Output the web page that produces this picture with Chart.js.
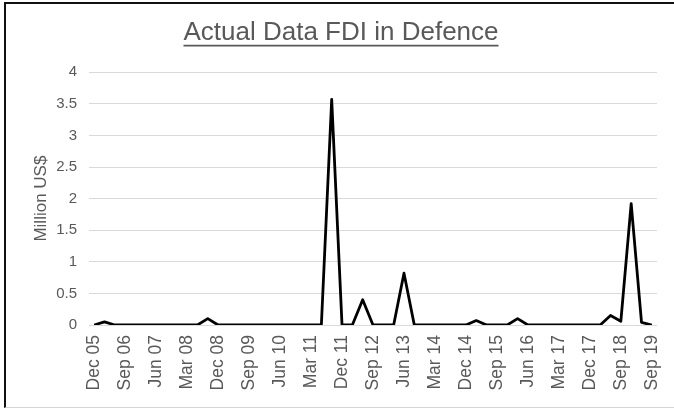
<!DOCTYPE html>
<html>
<head>
<meta charset="utf-8">
<script src="https://cdn.jsdelivr.net/npm/chart.js@4"></script>
<style>
  html, body { margin: 0; padding: 0; background: #fff; }
  #frame {
    position: absolute; left: 4px; top: 2px; width: 690px; height: 403px;
    border-left: 2px solid #111; border-top: 2px solid #111; border-bottom: 1px solid #d4d4d4;
  }
  #wrap { position: absolute; left: 0; top: 0; width: 674px; height: 408px; }
</style>
</head>
<body>
<div id="frame"></div>
<div id="wrap"><canvas id="chart"></canvas></div>
<script>
// quarterly periods, Dec 05 .. Sep 19
const quarters = [
  'Dec 05', 'Mar 06', 'Jun 06', 'Sep 06', 'Dec 06', 'Mar 07', 'Jun 07', 'Sep 07', 'Dec 07',
  'Mar 08', 'Jun 08', 'Sep 08', 'Dec 08', 'Mar 09', 'Jun 09', 'Sep 09', 'Dec 09', 'Mar 10',
  'Jun 10', 'Sep 10', 'Dec 10', 'Mar 11', 'Jun 11', 'Sep 11', 'Dec 11', 'Mar 12', 'Jun 12',
  'Sep 12', 'Dec 12', 'Mar 13', 'Jun 13', 'Sep 13', 'Dec 13', 'Mar 14', 'Jun 14', 'Sep 14',
  'Dec 14', 'Mar 15', 'Jun 15', 'Sep 15', 'Dec 15', 'Mar 16', 'Jun 16', 'Sep 16', 'Dec 16',
  'Mar 17', 'Jun 17', 'Sep 17', 'Dec 17', 'Mar 18', 'Jun 18', 'Sep 18', 'Dec 18', 'Mar 19',
  'Sep 19'
];

// FDI in defence, million US$
const fdiValues = [
  0, 0.05, 0, 0, 0, 0, 0, 0, 0,
  0, 0, 0.1, 0, 0, 0, 0, 0, 0,
  0, 0, 0, 0, 0, 3.57, 0, 0, 0.4,
  0, 0, 0, 0.82, 0, 0, 0, 0, 0,
  0, 0.07, 0, 0, 0, 0.1, 0, 0, 0,
  0, 0, 0, 0, 0, 0.15, 0.06, 1.92, 0.04,
  0
];

const yTicks = [0, 0.5, 1, 1.5, 2, 2.5, 3, 3.5, 4];
const labelEvery = 3;

const FONT = '"Liberation Sans", Arial, sans-serif';
const GREY = '#595959';

const underlineTitle = {
  id: 'underlineTitle',
  afterDraw(chart) {
    const t = chart.titleBlock;
    if (!t) return;
    const opts = chart.options.plugins.title;
    const ctx = chart.ctx;
    const size = opts.font.size;
    ctx.save();
    ctx.font = size + 'px ' + FONT;
    const w = ctx.measureText(opts.text).width;
    const cx = (t.left + t.right) / 2;
    const y = t.top + opts.padding.top + size * 0.6 + size * 0.5;
    ctx.strokeStyle = GREY;
    ctx.lineWidth = 1.6;
    ctx.beginPath();
    ctx.moveTo(cx - w / 2, y);
    ctx.lineTo(cx + w / 2, y);
    ctx.stroke();
    ctx.restore();
  }
};

new Chart(document.getElementById('chart'), {
  type: 'line',
  data: {
    labels: quarters,
    datasets: [{
      label: 'FDI in Defence',
      data: fdiValues,
      borderColor: '#000',
      borderWidth: 2.8,
      borderJoinStyle: 'round',
      pointRadius: 0,
      tension: 0,
      fill: false
    }]
  },
  options: {
    responsive: true,
    maintainAspectRatio: false,
    animation: false,
    layout: { padding: { left: 25, right: 17, top: 0, bottom: 0 } },
    plugins: {
      legend: { display: false },
      tooltip: { enabled: false },
      title: {
        display: true,
        text: 'Actual Data FDI in Defence',
        color: GREY,
        font: { family: FONT, size: 26, weight: 'normal' },
        padding: { top: 17, bottom: 24 }
      }
    },
    scales: {
      x: {
        offset: true,
        grid: { display: false, drawTicks: false },
        border: { display: false },
        ticks: {
          autoSkip: false,
          maxRotation: 90,
          minRotation: 90,
          padding: 10,
          color: GREY,
          font: { family: FONT, size: 17.5 },
          callback: (v, i) => (i % labelEvery === 0 ? quarters[i] : '')
        },
        afterFit: s => {
          s.height = 83;
          s.paddingLeft = 0;
          s.paddingRight = 0;
        }
      },
      y: {
        min: 0,
        max: 4,
        afterBuildTicks: s => { s.ticks = yTicks.map(v => ({ value: v })); },
        grid: { color: '#d9d9d9', lineWidth: 1, drawTicks: false },
        border: { display: false },
        ticks: {
          padding: 12,
          color: GREY,
          font: { family: FONT, size: 15 },
          callback: v => String(v)
        },
        title: {
          display: true,
          text: 'Million US$',
          color: GREY,
          font: { family: FONT, size: 17 },
          padding: { top: 6, bottom: 0 }
        },
        afterFit: s => {
          s.width = 64;
          s.paddingTop = 0;
          s.paddingBottom = 0;
        }
      }
    }
  },
  plugins: [underlineTitle]
});
</script>
</body>
</html>
